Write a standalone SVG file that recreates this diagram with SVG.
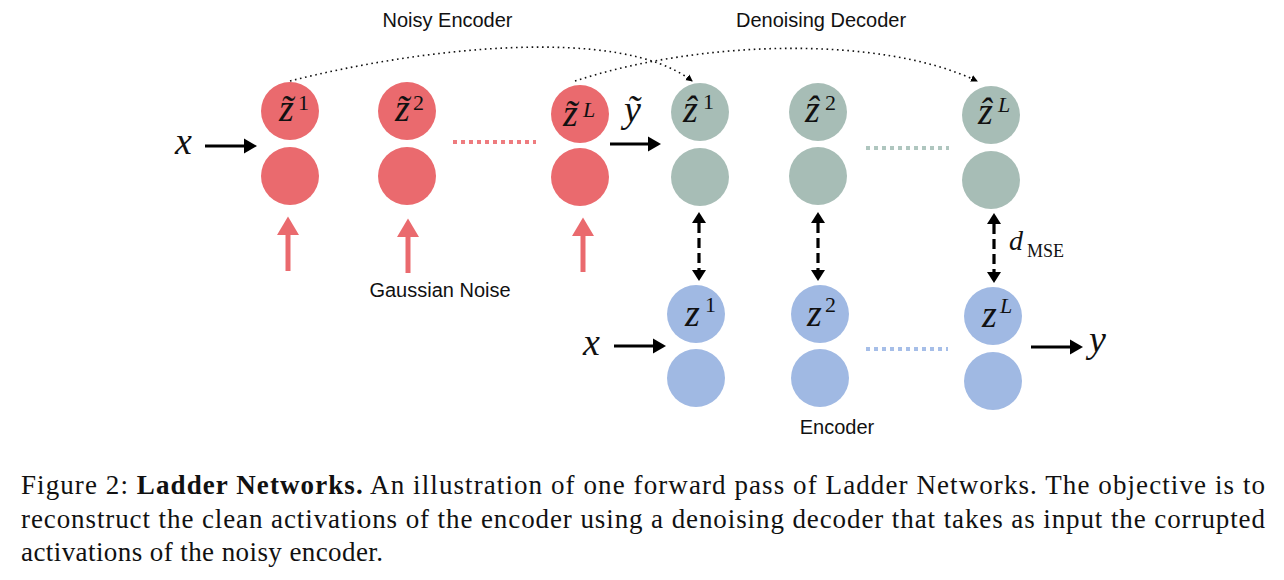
<svg xmlns="http://www.w3.org/2000/svg" width="1284" height="580" viewBox="0 0 1284 580">
<style>
.red{fill:#EA6A6E}
.grn{fill:#A7BDB6}
.blu{fill:#A0B9E3}
.lbl{font-family:"Liberation Sans",Arial,sans-serif;font-size:20px;fill:#111;text-anchor:middle}
.m{font-family:"Liberation Serif","Times New Roman",serif;font-style:italic;fill:#111;font-size:38px}
.sup{font-size:22px;font-style:normal}
.supi{font-size:22px;font-style:italic}
.rm{font-style:normal}
.cap{font-family:"Liberation Serif","Times New Roman",serif;font-size:27px;fill:#111}
.arr{stroke:#000;stroke-width:3;fill:none}
.dbl{stroke:#000;stroke-width:3.2;fill:none;stroke-dasharray:10 5}
.dot{stroke:#111;stroke-width:1.6;fill:none;stroke-dasharray:1.6 3.6}
.noise{stroke:#EA6A6E;stroke-width:5;fill:none}
</style>
<defs>
<marker id="ah" markerUnits="userSpaceOnUse" markerWidth="14" markerHeight="16" refX="0" refY="7.5" orient="auto-start-reverse" viewBox="0 0 14 15">
<path d="M0,0 L13,7.5 L0,15 z" fill="#000"/>
</marker>
<marker id="ahd" markerUnits="userSpaceOnUse" markerWidth="12" markerHeight="15" refX="0" refY="7" orient="auto-start-reverse" viewBox="0 0 12 14">
<path d="M0,0 L11,7 L0,14 z" fill="#000"/>
</marker>
<marker id="ahs" markerUnits="userSpaceOnUse" markerWidth="8" markerHeight="8" refX="6" refY="3.5" orient="auto" viewBox="0 0 8 7">
<path d="M0,0 L7,3.5 L0,7 z" fill="#000"/>
</marker>
<marker id="ahr" markerUnits="userSpaceOnUse" markerWidth="26" markerHeight="22" refX="0" refY="12.5" orient="auto" viewBox="0 0 22 25">
<path d="M0,0 L21,12.5 L0,25 z" fill="#EA6A6E"/>
</marker>
</defs>
<rect width="1284" height="580" fill="#fff"/>

<text class="lbl" x="447.5" y="27">Noisy Encoder</text>
<text class="lbl" x="821" y="27">Denoising Decoder</text>
<text class="lbl" x="440" y="297">Gaussian Noise</text>
<text class="lbl" x="837" y="434">Encoder</text>

<g id="noisy-1">
<circle class="red" cx="290" cy="111" r="29"/>
<circle class="red" cx="290" cy="176" r="29"/>
<text class="m" x="279" y="121">z&#x303;<tspan class="sup" x="298" y="110">1</tspan></text>
</g>
<g id="noisy-2">
<circle class="red" cx="407" cy="111" r="29"/>
<circle class="red" cx="407" cy="176" r="29"/>
<text class="m" x="395" y="121">z&#x303;<tspan class="sup" x="413" y="110">2</tspan></text>
</g>
<g id="noisy-L">
<circle class="red" cx="580" cy="114" r="29"/>
<circle class="red" cx="580" cy="177" r="29"/>
<text class="m" x="563" y="126">z&#x303;<tspan class="supi" x="583" y="117">L</tspan></text>
</g>
<g id="dec-1">
<circle class="grn" cx="700" cy="112" r="29"/>
<circle class="grn" cx="700" cy="177" r="29"/>
<text class="m" x="683" y="122">z&#x302;<tspan class="sup" x="703" y="109">1</tspan></text>
</g>
<g id="dec-2">
<circle class="grn" cx="818" cy="112" r="29"/>
<circle class="grn" cx="818" cy="176" r="29"/>
<text class="m" x="805" y="122">z&#x302;<tspan class="sup" x="825" y="110">2</tspan></text>
</g>
<g id="dec-L">
<circle class="grn" cx="991" cy="115" r="29"/>
<circle class="grn" cx="991" cy="180" r="29"/>
<text class="m" x="978" y="124">z&#x302;<tspan class="supi" x="998" y="112">L</tspan></text>
</g>
<g id="enc-1">
<circle class="blu" cx="696" cy="314" r="29"/>
<circle class="blu" cx="696" cy="378" r="29"/>
<text class="m" x="685" y="326">z<tspan class="sup" x="705" y="312">1</tspan></text>
</g>
<g id="enc-2">
<circle class="blu" cx="820" cy="314" r="29"/>
<circle class="blu" cx="820" cy="378" r="29"/>
<text class="m" x="807" y="326">z<tspan class="sup" x="825" y="312">2</tspan></text>
</g>
<g id="enc-L">
<circle class="blu" cx="993" cy="316" r="29"/>
<circle class="blu" cx="993" cy="381" r="29"/>
<text class="m" x="982" y="327">z<tspan class="supi" x="1000" y="313">L</tspan></text>
</g>

<g id="io-labels">
<text class="m" font-size="40" x="175" y="154">x</text>
<text class="m" font-size="40" x="583" y="355">x</text>
<text class="m" font-size="40" x="1089" y="352">y</text>
<text class="m" font-size="40" x="624" y="122">y&#x303;</text>
<text class="m" x="1009" y="250" style="font-size:28px">d<tspan class="rm" style="font-size:18px" x="1027" y="257">MSE</tspan></text>
</g>

<g id="ellipses">
<line x1="453" y1="142" x2="536" y2="142" stroke="#EE7C7F" stroke-width="4" stroke-dasharray="4 4"/>
<line x1="866" y1="148" x2="949" y2="148" stroke="#AFC6BF" stroke-width="4" stroke-dasharray="4 4"/>
<line x1="866" y1="349" x2="948" y2="349" stroke="#A6BEE8" stroke-width="4" stroke-dasharray="4 4"/>
</g>

<g id="connectors">
<line class="arr" x1="205" y1="146" x2="244" y2="146" marker-end="url(#ah)"/>
<line class="arr" x1="610" y1="144" x2="648" y2="144" marker-end="url(#ah)"/>
<line class="arr" x1="614" y1="346" x2="653" y2="346" marker-end="url(#ah)"/>
<line class="arr" x1="1031" y1="347" x2="1070" y2="347" marker-end="url(#ah)"/>
<line class="dbl" x1="699" y1="223" x2="699" y2="270" marker-start="url(#ahd)" marker-end="url(#ahd)"/>
<line class="dbl" x1="818" y1="223" x2="818" y2="270" marker-start="url(#ahd)" marker-end="url(#ahd)"/>
<line class="dbl" x1="994" y1="224" x2="994" y2="272" marker-start="url(#ahd)" marker-end="url(#ahd)"/>
<path class="dot" d="M290,81 C420,48 620,25 692,81" marker-end="url(#ahs)"/>
<path class="dot" d="M575,81 C700,40 880,35 977,81" marker-end="url(#ahs)"/>
<line class="noise" x1="288" y1="271" x2="288" y2="235" marker-end="url(#ahr)"/>
<line class="noise" x1="408" y1="273" x2="408" y2="237" marker-end="url(#ahr)"/>
<line class="noise" x1="583" y1="272" x2="583" y2="236" marker-end="url(#ahr)"/>
</g>

<g id="caption">
<text class="cap" x="21" y="494" textLength="1244" lengthAdjust="spacing">Figure 2: <tspan font-weight="bold">Ladder Networks.</tspan> An illustration of one forward pass of Ladder Networks. The objective is to</text>
<text class="cap" x="21" y="528" textLength="1244" lengthAdjust="spacing">reconstruct the clean activations of the encoder using a denoising decoder that takes as input the corrupted</text>
<text class="cap" x="21" y="561" textLength="362" lengthAdjust="spacing">activations of the noisy encoder.</text>
</g>
</svg>
